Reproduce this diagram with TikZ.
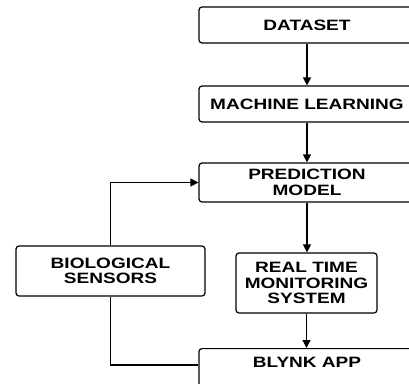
\documentclass[tikz,border=0pt]{standalone}
\usepackage{fontspec}
\newfontfamily\boxfont{Liberation Sans Bold}[FakeStretch=1.27]
\usetikzlibrary{arrows.meta,calc}
\begin{document}
\begin{tikzpicture}[x=1pt,y=-1pt,
  stage/.style={draw=black, line width=1.2pt, rounded corners=3pt, fill=white,
    font=\boxfont\fontsize{15}{15.5}\selectfont, align=center, inner sep=0pt},
  flow/.style={line width=1.2pt, -{Triangle[length=8pt,width=8pt]}},
  link/.style={line width=1.2pt}]
\useasboundingbox (0,0) rectangle (409,383);
\clip (0,0) rectangle (409,383);
\node[stage, minimum width=216pt, minimum height=36pt] (ds) at (307,25) {DATASET};
\node[stage, minimum width=216pt, minimum height=36pt] (ml) at (307,104) {MACHINE LEARNING};
\node[stage, minimum width=216pt, minimum height=39pt] (pm) at (307,182.5) {PREDICTION\\MODEL};
\node[stage, minimum width=189pt, minimum height=50pt] (bs) at (110.5,271) {BIOLOGICAL\\SENSORS};
\node[stage, minimum width=141pt, minimum height=60pt] (rt) at (306.5,283) {REAL TIME\\MONITORING\\SYSTEM};
\node[stage, minimum width=216pt, anchor=north, text height=11pt, text depth=30pt, inner ysep=7.5pt] (bk) at (307,348) {BLYNK APP};
\draw[flow] (ds.south) -- (ml.north);
\draw[flow] (ml.south) -- (pm.north);
\draw[flow] (pm.south) -- (pm.south |- rt.north);
\draw[flow] (rt.south) -- (rt.south |- bk.north);
\draw[flow] (bs.north) |- (pm.west);
\draw[link] (bs.south) |- ([yshift=-17pt]bk.north west);
\end{tikzpicture}
\end{document}
